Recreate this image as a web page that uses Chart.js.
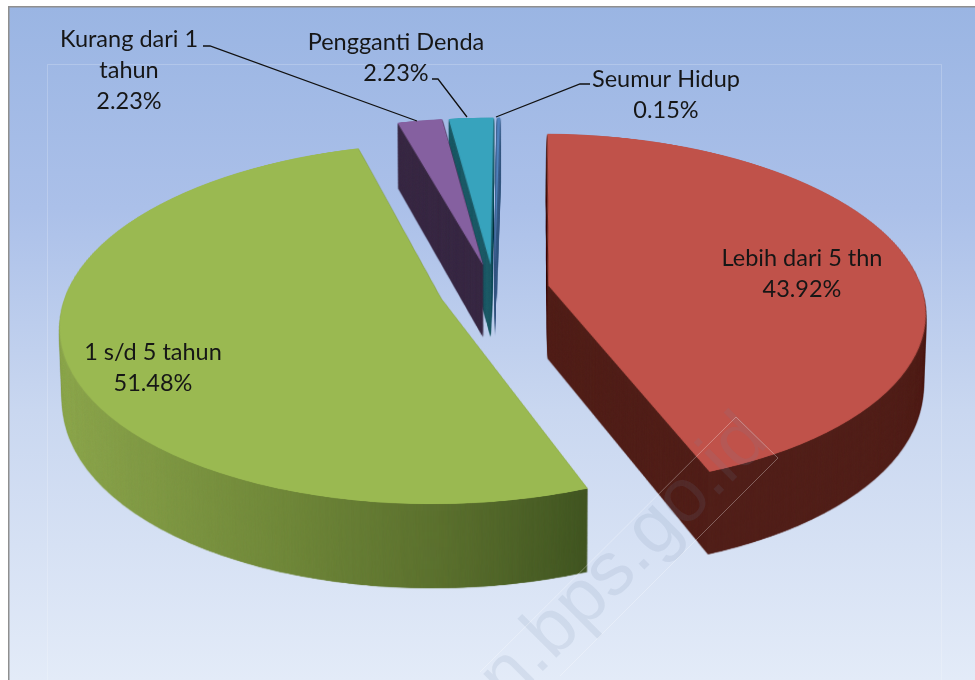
<!DOCTYPE html>
<html><head><meta charset="utf-8">
<style>html,body{margin:0;padding:0;background:#fff;overflow:hidden}#wrap{position:absolute;left:0;top:0;width:975px;height:680px}</style>
<script src="https://cdn.jsdelivr.net/npm/chart.js@4"></script>
</head><body><div id="wrap"><canvas id="c" width="975" height="680"></canvas></div>
<script>
const categories = ["Lebih dari 5 thn", "1 s/d 5 tahun", "Kurang dari 1 tahun", "Pengganti Denda", "Seumur Hidup"];
const values = [43.92, 51.48, 2.23, 2.23, 0.15];
const topColors = ["#c0524a", "#9ab951", "#8560a0", "#37a3bd", "#4f81bd"];
const wallColors = ["#52201a", "#6f8737", "#3a2a45", "#1f5c68", "#3d5f8a"];
const offsets = [172, 172, 172, 172, 172];
const labelLines = [["Lebih dari 5 thn"], ["1 s/d 5 tahun"], ["Kurang dari 1", "tahun"], ["Pengganti Denda"], ["Seumur Hidup"]];
const labelAnchors = [[802, 266], [153, 360], [129, 47], [396, 50], [666, 87]];
const labelStep = 31;
const leaders = [[[203,46],[210,46],[417,121]], [[432,79],[438,79],[467,117]], [[496,117],[580,84],[590,84]]];
const watermark = "n.bps.go.id";

// perspective of the pie plane
const X0 = 494, Y0 = 290, A = 374, B = 174.5, K = 0.141;
const S = 2, M = 60;

const pie3d = {
  id: 'pie3d',
  beforeDraw(chart) {
    const c = chart.ctx, W = chart.width, H = chart.height;
    c.save();
    c.fillStyle = '#fff'; c.fillRect(0, 0, W, H);
    const g = c.createLinearGradient(0, 6, 0, H);
    g.addColorStop(0, '#9ab5e3'); g.addColorStop(0.3, '#abc0e9');
    g.addColorStop(0.6, '#c9d7f0'); g.addColorStop(1, '#e3ebf8');
    c.fillStyle = g; c.fillRect(8, 6, W - 8, H - 6);
    c.fillStyle = '#8f8f8f'; c.fillRect(8, 6, W - 8, 1.5); c.fillRect(8, 6, 1.5, H - 6);
    c.strokeStyle = 'rgba(255,255,255,0.2)'; c.lineWidth = 1;
    c.beginPath(); c.moveTo(47.5, H); c.lineTo(47.5, 64.5); c.lineTo(941.5, 64.5); c.lineTo(941.5, H); c.stroke();
    c.restore();
  },
  beforeDatasetsDraw(chart) {
    const W = chart.width, H = chart.height, c = chart.ctx;
    const arcs = chart.getDatasetMeta(0).data;
    const cx = arcs[0].x, cy = arcs[0].y;
    const d0 = arcs[0].options.offset / 4;
    const Rn = arcs[0].outerRadius + d0 * 0.85;
    const mk = (w, h) => { const k = document.createElement('canvas'); k.width = w; k.height = h; return k; };
    const texW = (W + 2 * M) * S, texH = (H + 2 * M) * S;

    const paint = (fills) => {
      const t = mk(texW, texH), x = t.getContext('2d');
      x.setTransform(S, 0, 0, S, M * S, M * S);
      arcs.forEach((el, i) => {
        const saved = el.options, savedR = el.outerRadius, sa = el.startAngle, ea = el.endAngle;
        const d = saved.offset / 4;
        const fix = 1 - Math.sin(Math.min(Math.PI, el.circumference));
        const fill = typeof fills[i] === 'function' ? fills[i](x) : fills[i];
        el.options = Object.assign({}, saved, { backgroundColor: fill, borderWidth: 0, spacing: 0, circular: true });
        // Arc.draw grows the radius and trims the sweep of offset slices; undo both
        // so every slice keeps its true value angle and the same radius
        const ro = d * fix;
        const trim = ro / Math.PI / Rn / 2;
        el.outerRadius = Rn - ro;
        el.startAngle = sa - trim; el.endAngle = ea + trim;
        el.draw(x);
        el.options = saved; el.outerRadius = savedR; el.startAngle = sa; el.endAngle = ea;
      });
      return t;
    };
    const warp = (tex) => {
      const o = mk(W, H), d = o.getContext('2d');
      d.imageSmoothingEnabled = true; d.imageSmoothingQuality = 'high';
      const vAt = (sy) => (sy - Y0) / (B + K * (sy - Y0));
      for (let sy = 0; sy < H; sy++) {
        const v1 = vAt(sy), v2 = vAt(sy + 1);
        const ty1 = (cy + v1 * Rn + M) * S, ty2 = (cy + v2 * Rn + M) * S;
        if (ty1 < 0 || ty2 > texH) continue;
        const w = 1 - K * (v1 + v2) / 2;
        const sc = (A / w) / Rn;
        d.drawImage(tex, 0, ty1, texW, ty2 - ty1, X0 - (cx + M) * sc, sy, (W + 2 * M) * sc, 1);
      }
      return o;
    };
    const toTex = (sx) => cx + (sx - X0) / A * Rn;
    const wallFill = wallColors.slice();
    wallFill[1] = (x) => {
      const shift = d0 * 0.944;
      const g = x.createLinearGradient(toTex(65) + shift, 0, toTex(590) + shift, 0);
      g.addColorStop(0, '#90aa50'); g.addColorStop(0.45, '#728a3b');
      g.addColorStop(0.75, '#5a6f2e'); g.addColorStop(1, '#3e5220');
      return g;
    };
    const wall = warp(paint(wallFill));
    const top = warp(paint(topColors));
    c.save();
    c.imageSmoothingEnabled = true;
    const n = 85;
    for (let i = n; i >= 1; i--) {
      const t = i / n;
      const sx = 1 - 0.007 * t, sy = 1 + 0.05 * t;
      const dy = t * (75 - 320 * 0.05);
      c.drawImage(wall, X0 * (1 - sx), dy, W * sx, H * sy);
    }
    c.drawImage(top, 0, 0);
    c.restore();
    return false;
  },
  afterDraw(chart) {
    const c = chart.ctx;
    c.save();
    c.strokeStyle = '#111'; c.lineWidth = 1.3;
    leaders.forEach(l => { c.beginPath(); l.forEach((p, i) => i ? c.lineTo(p[0], p[1]) : c.moveTo(p[0], p[1])); c.stroke(); });
    c.fillStyle = '#161616'; c.font = '23.5px Lato'; c.textAlign = 'center'; c.textBaseline = 'alphabetic';
    categories.forEach((name, i) => {
      const lines = labelLines[i].concat([values[i].toFixed(2) + '%']);
      lines.forEach((s, j) => c.fillText(s, labelAnchors[i][0], labelAnchors[i][1] + j * labelStep));
    });
    // watermark
    c.save();
    c.translate(508, 706); c.rotate(-Math.PI / 4);
    c.fillStyle = 'rgba(110,130,165,0.13)'; c.font = '76px "Liberation Sans"'; c.textAlign = 'left';
    c.fillText(watermark, 0, 0);
    c.restore();
    c.strokeStyle = 'rgba(255,255,255,0.3)'; c.lineWidth = 1;
    c.beginPath(); c.moveTo(480, 672); c.lineTo(736, 417); c.lineTo(778, 458); c.lineTo(560, 676); c.stroke();
    c.restore();
  }
};

new Chart(document.getElementById('c').getContext('2d'), {
  type: 'pie',
  data: { labels: categories, datasets: [{ data: values, backgroundColor: topColors, borderWidth: 0, offset: offsets, hoverOffset: 0 }] },
  options: {
    responsive: false, animation: false, events: [],
    layout: { padding: 0 }, rotation: 1,
    plugins: { legend: { display: false }, tooltip: { enabled: false }, title: { display: false } }
  },
  plugins: [pie3d]
});
</script></body></html>
